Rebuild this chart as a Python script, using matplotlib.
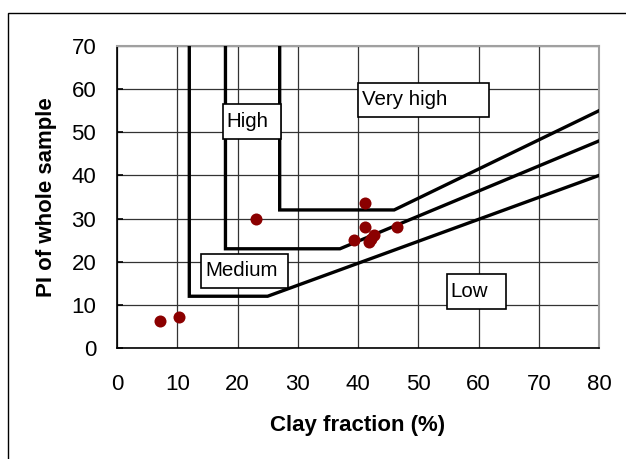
import numpy as np
import matplotlib.pyplot as plt
from matplotlib.patches import Rectangle

plt.rcParams['font.family'] = ['Liberation Sans', 'DejaVu Sans']

# measured samples
clay = [7.1, 10.3, 23.0, 41.2, 41.2, 46.5, 39.3, 42.6, 41.8, 42.2]
pi = [6.3, 7.2, 29.9, 33.6, 28.1, 28.0, 25.1, 26.2, 24.5, 25.3]

# class boundaries (vertical leg, flat leg, sloping leg to x=80)
low_med_x = [12, 12, 25, 80]
low_med_y = [70, 12, 12, 40]
med_high_x = [18, 18, 37, 80]
med_high_y = [70, 23, 23, 48]
high_vh_x = [27, 27, 46, 80]
high_vh_y = [70, 32, 32, 55]

# class label boxes: (text, x0, y0, x1, y1)
labels = [
    ("High", 17.6, 48.5, 27.2, 56.6),
    ("Very high", 40.0, 53.6, 61.8, 61.5),
    ("Medium", 14.0, 13.9, 28.4, 21.8),
    ("Low", 54.8, 9.0, 64.5, 17.2),
]

fig = plt.figure(figsize=(6.26, 4.59), dpi=100)
ax = fig.add_axes([0.1869, 0.2418, 0.770, 0.6580])

# outer frame, cut off at right and bottom
fig.patches.append(Rectangle((8 / 626, -0.1), 1.2, 0.9717 + 0.1, transform=fig.transFigure,
                             fill=False, edgecolor="black", linewidth=1.0))

for xs, ys in [(low_med_x, low_med_y), (med_high_x, med_high_y), (high_vh_x, high_vh_y)]:
    ax.plot(xs, ys, color="black", linewidth=2.4, solid_joinstyle="miter", zorder=3)

for text, x0, y0, x1, y1 in labels:
    ax.add_patch(Rectangle((x0, y0), x1 - x0, y1 - y0, facecolor="white",
                           edgecolor="black", linewidth=1.2, zorder=4))
    ax.text(x0 + 0.6, (y0 + y1) / 2, text, ha="left", va="center", fontsize=14.8, zorder=5)

ax.scatter(clay, pi, s=75, color="#8b0000", zorder=6, linewidths=0)

ax.set_xlim(0, 80)
ax.set_ylim(0, 70)
ax.set_xticks(np.arange(0, 81, 10))
ax.set_yticks(np.arange(0, 71, 10))
ax.grid(True, color="#333333", linewidth=0.9)
ax.set_axisbelow(True)
ax.tick_params(axis="y", direction="in", length=4, width=1.2, pad=15, labelsize=16)
ax.tick_params(axis="x", length=0, pad=19, labelsize=16)
for side in ["top", "right"]:
    ax.spines[side].set_color("#a0a0a0")
    ax.spines[side].set_linewidth(1.5)
for side in ["left", "bottom"]:
    ax.spines[side].set_color("black")
    ax.spines[side].set_linewidth(1.2)

ax.set_xlabel("Clay fraction (%)", fontsize=16, fontweight="bold", labelpad=14)
ax.set_ylabel("PI of whole sample", fontsize=16, fontweight="bold", labelpad=10)

fig.savefig("out.png", dpi=100)
